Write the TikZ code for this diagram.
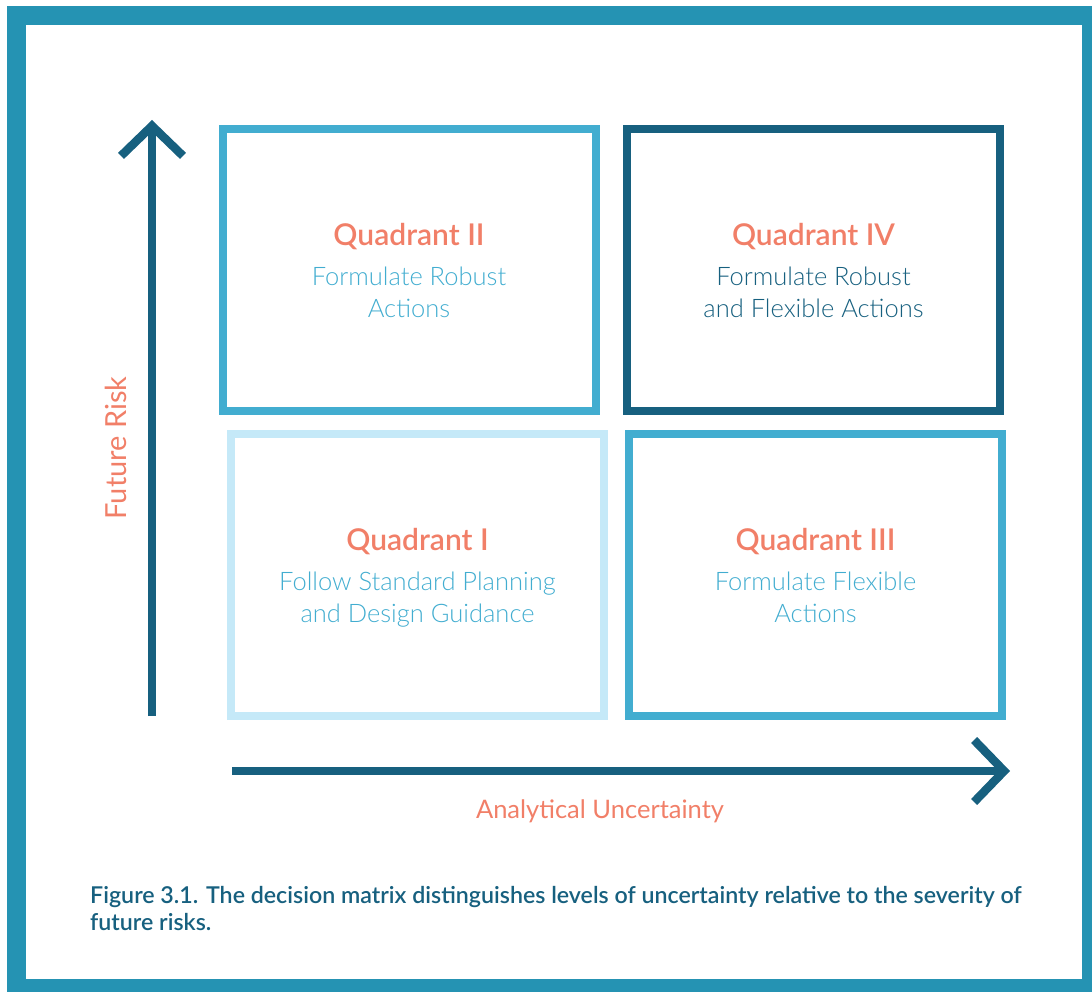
\documentclass[tikz,border=0pt]{standalone}
\usepackage{fontspec}
\setmainfont{Lato}
\newfontfamily\headfont{Lato Semibold}
\newfontfamily\bodyfont{Lato Light}
\usetikzlibrary{arrows.meta,positioning}
\definecolor{frameteal}{HTML}{2593B3}
\definecolor{darkblue}{HTML}{17607F}
\definecolor{midblue}{HTML}{42ADD0}
\definecolor{lightblue}{HTML}{C5E9F8}
\definecolor{salmon}{HTML}{F17F68}
\newcommand{\qtitle}[1]{{\headfont\fontsize{30}{32}\selectfont\color{salmon}\rule{0pt}{32pt}#1}\\[8pt]}
\begin{document}
\begin{tikzpicture}[x=1pt, y=-1pt,
    quad/.style={draw, line width=8pt, minimum width=373pt, minimum height=282pt, align=center, text=midblue, font=\bodyfont\fontsize{25.5}{32}\selectfont},
    axis/.style={line width=8.5pt, draw=darkblue, -{Straight Barb[length=30pt, width=62pt]}},
    axislabel/.style={text=salmon, font=\fontsize{25.5}{30}\selectfont}
]
    \useasboundingbox (0,0) rectangle (1092,992);
    % Frame
    \draw[frameteal, line width=19pt] (16.5,15.5) rectangle (1091.5,988.5);

    % Four quadrants
    \node[quad, draw=midblue] (q2) at (409,270) {\qtitle{Quadrant II}Formulate Robust\\Actions\strut};
    \node[quad, draw=darkblue, text=darkblue] (q4) at (813.5,270) {\qtitle{Quadrant IV}Formulate Robust\\and Flexible Actions\strut};
    \node[quad, draw=lightblue] (q1) at (417.5,575) {\qtitle{Quadrant I}Follow Standard Planning\\and Design Guidance\strut};
    \node[quad, draw=midblue] (q3) at (815.5,575) {\qtitle{Quadrant III}Formulate Flexible\\Actions\strut};

    % Axes
    \coordinate (ybot) at (152,716);
    \coordinate (ytop) at (152,120);
    \coordinate (xleft) at (232,771);
    \coordinate (xright) at (1010,771);
    \draw[axis] (ybot) -- (ytop);
    \draw[axis] (xleft) -- (xright);

    \node[axislabel, rotate=90, font=\fontsize{29}{30}\selectfont] (risk) at (116,448) {Future Risk};
    \node[axislabel, anchor=base] (unc) at (600,818) {Analytical Uncertainty};

    % Caption
    \node[anchor=base west, align=left, inner sep=0pt, text=darkblue, font=\headfont\fontsize{23.2}{27}\selectfont] (cap) at (90,930)
        {Figure 3.1. The decision matrix distinguishes levels of uncertainty relative to the severity of\\future risks.};
\end{tikzpicture}
\end{document}
